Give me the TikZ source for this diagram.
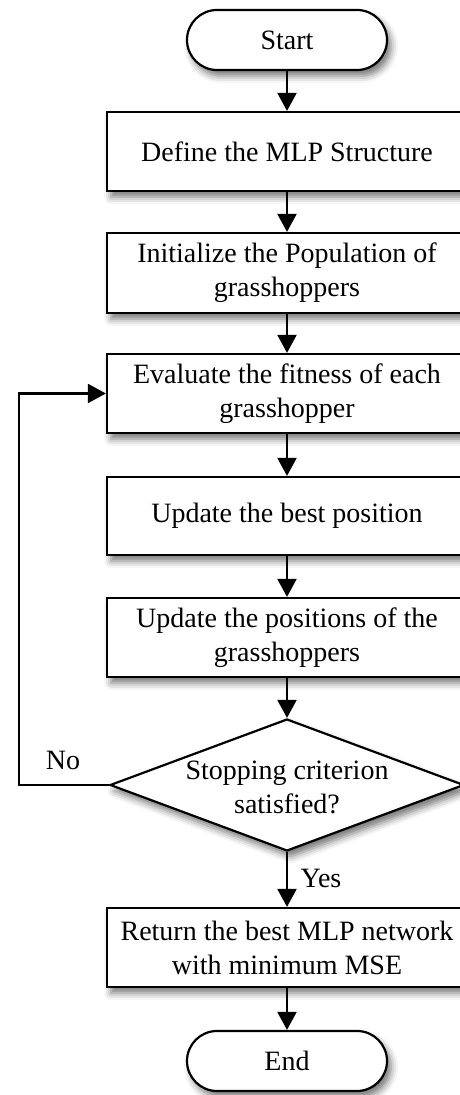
\documentclass[tikz,border=0pt]{standalone}
\usepackage{fontspec}
\setmainfont{Liberation Serif}
\usetikzlibrary{arrows.meta,shapes.geometric,shadows.blur}
\tikzset{
  base/.style={draw=black, line width=2.2pt, fill=white, align=center,
    font=\fontsize{28}{34}\selectfont,
    blur shadow={shadow xshift=4pt, shadow yshift=-6pt, shadow blur radius=7pt, shadow opacity=55}},
  procbox/.style={base, rectangle, minimum width=360pt, inner sep=0pt},
  termbox/.style={base, rectangle, rounded corners=30pt, minimum width=200pt, minimum height=60pt, inner sep=0pt},
  decision/.style={base, diamond, minimum width=354pt, minimum height=132pt, inner sep=0pt},
  dtext/.style={align=center, font=\fontsize{28}{34}\selectfont, inner sep=0pt},
  lbl/.style={font=\fontsize{28}{34}\selectfont, inner sep=0pt},
  conn/.style={line width=2.2pt, -{Triangle[width=19pt,length=18pt]}},
}
\begin{document}
\begin{tikzpicture}[x=1pt,y=1pt]
\useasboundingbox (0,0) rectangle (460,1095);
\node[termbox] (start) at (287,1055) {Start};
\node[procbox, minimum height=79pt] (b1) at (287,943.5) {Define the MLP Structure};
\node[procbox, minimum height=80pt] (b2) at (287,822) {Initialize the Population of\\grasshoppers};
\node[procbox, minimum height=79pt] (b3) at (287,701.5) {Evaluate the fitness of each\\grasshopper};
\node[procbox, minimum height=78pt] (b4) at (287,579) {Update the best position};
\node[procbox, minimum height=79pt] (b5) at (287,457.5) {Update the positions of the\\grasshoppers};
\node[decision] (dec) at (287,310) {};
\node[dtext] (dect) at (287,308) {Stopping criterion\\satisfied?};
\node[procbox, minimum height=79pt] (b6) at (287,147.5) {Return the best MLP network\\with minimum MSE};
\node[termbox] (end) at (287,34) {End};
\coordinate (fbl) at (19,310);
\coordinate (fbu) at (19,701.5);
\node[lbl] (no) at (63,335) {No};
\node[lbl] (yes) at (321,217) {Yes};

\draw[conn] (start) -- (b1);
\draw[conn] (b1) -- (b2);
\draw[conn] (b2) -- (b3);
\draw[conn] (b3) -- (b4);
\draw[conn] (b4) -- (b5);
\draw[conn] (b5) -- (dec.north);
\draw[conn] (dec.south) -- (b6);
\draw[conn] (b6) -- (end);
\draw[conn] (dec.west) -- (fbl) -- (fbu) -- (b3.west);
\end{tikzpicture}
\end{document}
